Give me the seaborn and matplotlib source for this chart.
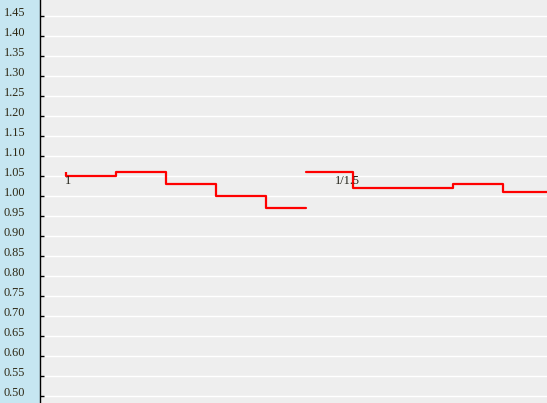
import matplotlib
matplotlib.use("Agg")
import matplotlib.pyplot as plt
import seaborn as sns
import pandas as pd
import numpy as np

# adjusted price ratio, x in day units
pre_x = [0, 5, 10, 15, 20, 24]
pre_y = [1.05, 1.06, 1.03, 1.00, 0.97, 0.97]
post_x = [24, 28.7, 38.7, 43.7, 49]
post_y = [1.06, 1.02, 1.03, 1.01, 1.01]

# split marker and notes
split_x = [0]
split_lo = [1.05]
split_hi = [1.06]
note_x = [-0.1, 26.9]
note_y = [1.029, 1.029]
note_text = ["1", "1/1.5"]

y_ticks = [0.50, 0.55, 0.60, 0.65, 0.70, 0.75, 0.80, 0.85, 0.90, 0.95,
           1.00, 1.05, 1.10, 1.15, 1.20, 1.25, 1.30, 1.35, 1.40, 1.45]

sns.set_style("darkgrid", {"axes.facecolor": "#EEEEEE", "grid.color": "white"})
plt.rcParams['font.family'] = ['Liberation Serif', 'DejaVu Serif']

df = pd.concat([
    pd.DataFrame({"x": pre_x, "y": pre_y, "seg": "pre"}),
    pd.DataFrame({"x": post_x, "y": post_y, "seg": "post"}),
])

fig = plt.figure(figsize=(5.47, 4.03), dpi=100)
fig.patch.set_facecolor("#C6E6F1")
ax = fig.add_axes([40 / 547, 0, 507 / 547, 1])

sns.lineplot(data=df, x="x", y="y", units="seg", estimator=None,
             drawstyle="steps-post", color="red", linewidth=1.6, ax=ax, legend=False)
ax.vlines(split_x, split_lo, split_hi, color="red", linewidth=1.6)

for xx, yy, t in zip(note_x, note_y, note_text):
    ax.text(xx, yy, t, fontsize=8.8, color="#1e1e14", ha="left", va="baseline")

ax.set_xlim(-2.6, 48.1)
ax.set_ylim(0.4825, 1.49)
ax.set_yticks(y_ticks)
ax.set_yticklabels([f"{v:.2f}" for v in y_ticks])
for lab in ax.get_yticklabels():
    lab.set_horizontalalignment("left")
    lab.set_verticalalignment("baseline")
ax.tick_params(axis="y", direction="in", length=3, width=1, color="black",
               pad=26.2, labelsize=8.8, labelcolor="#2e2814", left=True)
ax.set_xticks([])
ax.xaxis.grid(False)
ax.yaxis.grid(True, linewidth=1)
ax.set_xlabel("")
ax.set_ylabel("")
for side in ["top", "right", "bottom"]:
    ax.spines[side].set_visible(False)
ax.spines["left"].set_visible(True)
ax.spines["left"].set_color("black")
ax.spines["left"].set_linewidth(1)

fig.savefig("out.png", dpi=100)
